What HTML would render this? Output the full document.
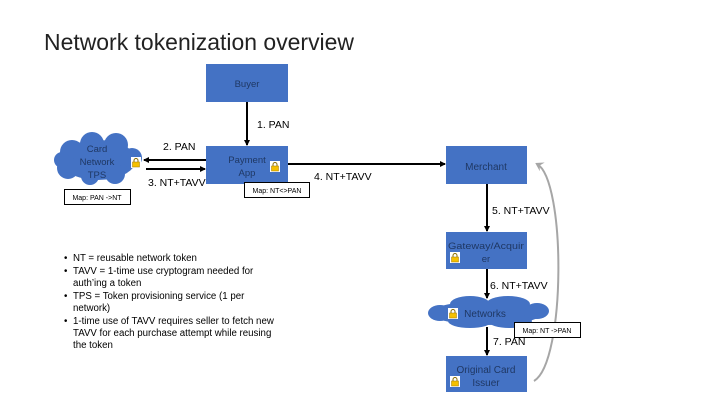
<!DOCTYPE html>
<html><head><meta charset="utf-8"><style>
html,body{margin:0;padding:0;background:#fff;}
svg{display:block;font-family:"Liberation Sans",sans-serif;}
</style></head><body>
<svg width="720" height="405" viewBox="0 0 720 405" xmlns="http://www.w3.org/2000/svg">
<defs>
<marker id="ah" markerWidth="6" markerHeight="6" refX="5" refY="3" orient="auto" markerUnits="userSpaceOnUse"><path d="M0,0 L6,3 L0,6 z" fill="#000"/></marker>
<marker id="ag" markerWidth="10" markerHeight="10" refX="6" refY="5" orient="auto" markerUnits="userSpaceOnUse"><path d="M0,0 L8,5 L0,10 L3,5 z" fill="#a6a6a6"/></marker>
<g id="lock"><rect x="0" y="0" width="10" height="11" fill="#fff"/><path d="M3,5 V3.5 a2,2 0 0 1 4,0 V5" stroke="#8a6d00" stroke-width="1" fill="none"/><rect x="1.5" y="5" width="7" height="5" fill="#f5c000" stroke="#a07800" stroke-width="0.5"/></g>
</defs>
<text x="44" y="50" font-size="23" fill="#222" textLength="310" lengthAdjust="spacingAndGlyphs">Network tokenization overview</text>

<!-- boxes -->
<rect x="206" y="64" width="82" height="38" fill="#4472c4"/>
<text x="247" y="87" font-size="9.5" fill="#1f3864" text-anchor="middle">Buyer</text>
<rect x="206" y="146" width="82" height="38" fill="#4472c4"/>
<text x="247" y="163" font-size="9.5" fill="#1f3864" text-anchor="middle">Payment</text>
<text x="247" y="176" font-size="9.5" fill="#1f3864" text-anchor="middle">App</text>
<use href="#lock" x="270" y="161"/>
<rect x="446" y="146" width="81" height="38" fill="#4472c4"/>
<text x="486" y="170" font-size="10" fill="#1f3864" text-anchor="middle">Merchant</text>
<rect x="446" y="232" width="81" height="37" fill="#4472c4"/>
<text x="486" y="249" font-size="9.5" fill="#1f3864" text-anchor="middle" textLength="76" lengthAdjust="spacingAndGlyphs">Gateway/Acquir</text>
<text x="486" y="262" font-size="9.5" fill="#1f3864" text-anchor="middle">er</text>
<use href="#lock" x="450" y="252"/>
<rect x="446" y="356" width="81" height="36" fill="#4472c4"/>
<text x="486" y="373" font-size="10" fill="#1f3864" text-anchor="middle">Original Card</text>
<text x="486" y="386" font-size="10" fill="#1f3864" text-anchor="middle">Issuer</text>
<use href="#lock" x="450" y="376"/>

<!-- card network cloud -->
<g fill="#4472c4">
<ellipse cx="98" cy="160" rx="38" ry="20"/>
<circle cx="72" cy="152" r="12"/><circle cx="92" cy="144" r="12"/><circle cx="116" cy="145" r="12"/><circle cx="132" cy="158" r="10"/>
<circle cx="68" cy="168" r="11"/><circle cx="90" cy="176" r="9"/><circle cx="115" cy="174" r="10"/><circle cx="62" cy="160" r="8"/>
</g>
<text x="97" y="152" font-size="9.5" fill="#1f3864" text-anchor="middle">Card</text>
<text x="97" y="165" font-size="9.5" fill="#1f3864" text-anchor="middle">Network</text>
<text x="97" y="178" font-size="9.5" fill="#1f3864" text-anchor="middle">TPS</text>
<use href="#lock" x="131" y="157"/>

<!-- networks cloud -->
<g fill="#4472c4">
<ellipse cx="487" cy="313" rx="56" ry="12"/>
<ellipse cx="440" cy="313" rx="12" ry="8"/><ellipse cx="470" cy="304" rx="20" ry="8"/><ellipse cx="508" cy="304" rx="22" ry="8"/>
<ellipse cx="537" cy="311" rx="12" ry="8"/><ellipse cx="470" cy="321" rx="22" ry="7"/><ellipse cx="510" cy="321" rx="22" ry="7"/>
</g>
<text x="485" y="317" font-size="10" fill="#1f3864" text-anchor="middle">Networks</text>
<use href="#lock" x="448" y="308"/>

<!-- map boxes -->
<rect x="64.5" y="189.5" width="66" height="15" fill="#fff" stroke="#000" stroke-width="1"/>
<text x="97" y="200" font-size="7" fill="#000" text-anchor="middle">Map: PAN -&gt;NT</text>
<rect x="244.5" y="182.5" width="65" height="15" fill="#fff" stroke="#000" stroke-width="1"/>
<text x="277" y="193" font-size="7" fill="#000" text-anchor="middle">Map: NT&lt;&gt;PAN</text>

<!-- arrows -->
<line x1="247" y1="102" x2="247" y2="145" stroke="#000" stroke-width="2" marker-end="url(#ah)"/>
<text x="257" y="128" font-size="10.5" fill="#000">1. PAN</text>
<line x1="206" y1="160" x2="144" y2="160" stroke="#000" stroke-width="2" marker-end="url(#ah)"/>
<text x="163" y="150" font-size="10.5" fill="#000">2. PAN</text>
<line x1="146" y1="169" x2="205" y2="169" stroke="#000" stroke-width="2" marker-end="url(#ah)"/>
<text x="148" y="186" font-size="10.5" fill="#000">3. NT+TAVV</text>
<line x1="288" y1="164" x2="445" y2="164" stroke="#000" stroke-width="2" marker-end="url(#ah)"/>
<text x="314" y="180" font-size="10.5" fill="#000">4. NT+TAVV</text>
<line x1="487" y1="184" x2="487" y2="231" stroke="#000" stroke-width="2" marker-end="url(#ah)"/>
<text x="492" y="214" font-size="10.5" fill="#000">5. NT+TAVV</text>
<line x1="487" y1="269" x2="487" y2="298" stroke="#000" stroke-width="2" marker-end="url(#ah)"/>
<text x="490" y="289" font-size="10.5" fill="#000">6. NT+TAVV</text>
<line x1="487" y1="327" x2="487" y2="355" stroke="#000" stroke-width="2" marker-end="url(#ah)"/>
<text x="493" y="345" font-size="10.5" fill="#000">7. PAN</text>

<path d="M534,381 C566,362 566,180 537,164" fill="none" stroke="#a6a6a6" stroke-width="2" marker-end="url(#ag)"/>

<rect x="514.5" y="322.5" width="66" height="15" fill="#fff" stroke="#000" stroke-width="1"/>
<text x="547" y="333" font-size="7" fill="#000" text-anchor="middle">Map: NT -&gt;PAN</text>

<!-- bullets -->
<g font-size="9.7" fill="#000">
<text x="64" y="261">•</text><text x="73" y="261">NT = reusable network token</text>
<text x="64" y="274">•</text><text x="73" y="274">TAVV = 1-time use cryptogram needed for</text>
<text x="73" y="286">auth’ing a token</text>
<text x="64" y="299">•</text><text x="73" y="299">TPS = Token provisioning service (1 per</text>
<text x="73" y="311">network)</text>
<text x="64" y="324">•</text><text x="73" y="324">1-time use of TAVV requires seller to fetch new</text>
<text x="73" y="336">TAVV for each purchase attempt while reusing</text>
<text x="73" y="348">the token</text>
</g>
</svg>
</body></html>
